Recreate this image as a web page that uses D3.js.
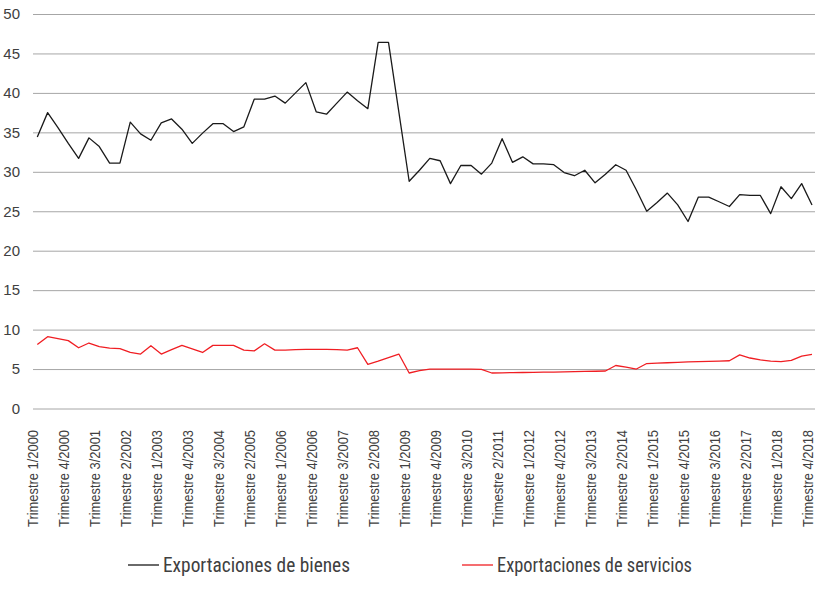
<!DOCTYPE html>
<html>
<head>
<meta charset="utf-8">
<script src="https://cdn.jsdelivr.net/npm/d3@7"></script>
<style>
  body { margin: 0; background: #fff; }
  svg { display: block; font-family: "Liberation Sans Narrow", "Roboto Condensed", "DejaVu Sans Condensed", Roboto, sans-serif; }
  .grid line { stroke: #a6a6a6; stroke-width: 1; }
  .tick text { fill: #404040; }
</style>
</head>
<body>
<div id="chart"></div>
<script>
var width = 815,
	height = 605,
	plot = {left: 33, right: 815, top: 14, bottom: 408.5};

// quarters 1/2000 .. 4/2018
var years = [2000, 2001, 2002, 2003, 2004, 2005, 2006, 2007, 2008, 2009,
	2010, 2011, 2012, 2013, 2014, 2015, 2016, 2017, 2018];
var quarters = [1, 2, 3, 4];
var categories = [];
years.forEach(function(yr){
	quarters.forEach(function(q){ categories.push("Trimestre " + q + "/" + yr); });
});

var yTicks = [0, 5, 10, 15, 20, 25, 30, 35, 40, 45, 50];

var bienes = [
	34.4, 37.5, 35.6, 33.6, 31.7, 34.3, 33.2, 31.1, 31.1, 36.3,
	34.8, 34.0, 36.2, 36.7, 35.4, 33.6, 34.9, 36.1, 36.1, 35.1,
	35.7, 39.2, 39.2, 39.6, 38.7, 40.0, 41.3, 37.6, 37.3, 38.7,
	40.1, 39.0, 38.0, 46.4, 46.4, 37.6, 28.8, 30.2, 31.7, 31.4,
	28.5, 30.8, 30.8, 29.7, 31.1, 34.2, 31.2, 31.9, 31.0, 31.0,
	30.9, 29.9, 29.5, 30.2, 28.6, 29.7, 30.9, 30.2, 27.7, 25.0,
	26.1, 27.3, 25.8, 23.7, 26.8, 26.8, 26.2, 25.6, 27.1, 27.0,
	27.0, 24.7, 28.1, 26.6, 28.5, 25.8
];

var servicios = [
	8.1, 9.1, 8.85, 8.6, 7.7, 8.3, 7.85, 7.65, 7.6, 7.1,
	6.9, 7.95, 6.9, 7.45, 8.0, 7.55, 7.1, 8.0, 8.0, 8.0,
	7.4, 7.3, 8.2, 7.4, 7.4, 7.45, 7.5, 7.5, 7.5, 7.45,
	7.4, 7.7, 5.6, 6.0, 6.45, 6.9, 4.5, 4.8, 5.0, 5.0,
	5.0, 5.0, 5.0, 4.95, 4.5, 4.52, 4.55, 4.56, 4.58, 4.6,
	4.62, 4.65, 4.67, 4.7, 4.72, 4.75, 5.45, 5.25, 5.0, 5.7,
	5.75, 5.8, 5.85, 5.9, 5.93, 5.97, 6.0, 6.05, 6.8, 6.4,
	6.15, 6.0, 5.95, 6.1, 6.65, 6.85
];

var seriesNames = ["Exportaciones de bienes", "Exportaciones de servicios"];
var seriesColors = ["#1a1a1a", "#f01e23"];

var svg = d3.select("#chart")
	.append("svg")
	.attr("width", width)
	.attr("height", height)
	.style("background", "#fff");

var x = d3.scalePoint()
	.domain(categories)
	.range([37.3, 812]);

var y = d3.scaleLinear()
	.domain([0, 50])
	.range([plot.bottom, plot.top]);

// gridlines + y labels
var yAxis = svg.append("g")
	.attr("class", "grid")
	.attr("transform", "translate(" + plot.left + ",0)")
	.call(d3.axisLeft(y)
		.tickValues(yTicks)
		.tickSize(-(plot.right - plot.left))
		.tickPadding(13));
yAxis.select(".domain").remove();
yAxis.selectAll("text")
	.style("font-size", "15px");

// category labels, every third quarter
var xAxis = svg.append("g")
	.attr("transform", "translate(0," + plot.bottom + ")")
	.call(d3.axisBottom(x)
		.tickValues(categories.filter(function(d, i){ return i % 3 === 0; }))
		.tickSize(0));
xAxis.select(".domain").remove();
xAxis.selectAll("text")
	.attr("transform", "rotate(-90)")
	.attr("x", -21.5)
	.attr("y", 0)
	.attr("dy", 0)
	.style("text-anchor", "end")
	.style("dominant-baseline", "alphabetic")
	.style("font-size", "15px")
	.attr("textLength", 97)
	.attr("lengthAdjust", "spacingAndGlyphs");

var line = d3.line()
	.x(function(d, i){ return x(categories[i]); })
	.y(function(d){ return y(d); });

svg.append("path")
	.datum(servicios)
	.attr("fill", "none")
	.attr("stroke", seriesColors[1])
	.attr("stroke-width", 1.3)
	.attr("stroke-linejoin", "round")
	.attr("d", line);

svg.append("path")
	.datum(bienes)
	.attr("fill", "none")
	.attr("stroke", seriesColors[0])
	.attr("stroke-width", 1.3)
	.attr("stroke-linejoin", "round")
	.attr("d", line);

// legend
var legendY = 565,
	legendItems = [{x: 128, len: 187}, {x: 462, len: 195}];

var legend = svg.append("g").attr("class", "legend");
legendItems.forEach(function(l, i){
	legend.append("line")
		.attr("x1", l.x).attr("x2", l.x + 31)
		.attr("y1", legendY).attr("y2", legendY)
		.attr("stroke", seriesColors[i])
		.attr("stroke-width", 1.3);
	legend.append("text")
		.attr("x", l.x + 35)
		.attr("y", legendY + 7)
		.attr("fill", "#404040")
		.style("font-size", "20px")
		.attr("textLength", l.len)
		.attr("lengthAdjust", "spacingAndGlyphs")
		.text(seriesNames[i]);
});
</script>
</body>
</html>
